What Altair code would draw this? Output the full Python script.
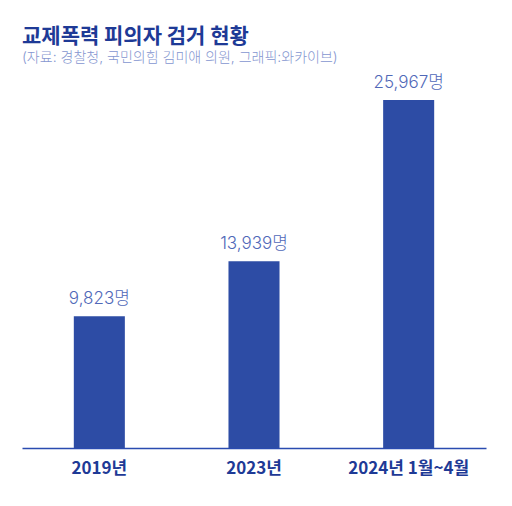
import altair as alt
import pandas as pd

categories = ["2019년", "2023년", "2024년 1월~4월"]
values = [9823, 13939, 25967]
labels = ["9,823명", "13,939명", "25,967명"]

df = pd.DataFrame({"cat": categories, "val": values, "lab": labels})

FONT = "Noto Sans CJK KR"
LIGHT = "Inter, Noto Sans CJK KR"

x = alt.X("cat:N", sort=categories, title=None,
          scale=alt.Scale(paddingInner=0.67, paddingOuter=0.335),
          axis=alt.Axis(labelAngle=0, labelFontSize=17, labelFontWeight="bold",
                        labelColor="#1E3A96", labelFont=FONT, labelPadding=12,
                        ticks=False, domainColor="#2A4BB0", domainWidth=1.6))
y = alt.Y("val:Q", axis=None, scale=alt.Scale(domain=[0, 27460], nice=False, zero=True))

bars = alt.Chart(df).mark_bar(color="#2D4CA5").encode(x=x, y=y)
text = alt.Chart(df).mark_text(dy=-8, baseline="bottom", fontSize=17, fontWeight=300,
                               font=LIGHT, color="#5068B8").encode(
    x=alt.X("cat:N", sort=categories), y="val:Q", text="lab:N")

chart = (bars + text).properties(
    width=464, height=368,
    padding={"left": 14, "top": 18, "right": 10, "bottom": 10},
    title=alt.TitleParams(
        text="교제폭력 피의자 검거 현황",
        subtitle="(자료: 경찰청, 국민의힘 김미애 의원, 그래픽:와카이브)",
        anchor="start", font=FONT, fontSize=21, fontWeight="bold", color="#1E3A96",
        subtitleFont=LIGHT, subtitleFontSize=14, subtitleColor="#8596D0",
        subtitleFontWeight=300, subtitlePadding=4, offset=9,
    ),
).configure_view(stroke=None)

chart.save("out.html", embed_options={"renderer": "svg", "actions": False})
